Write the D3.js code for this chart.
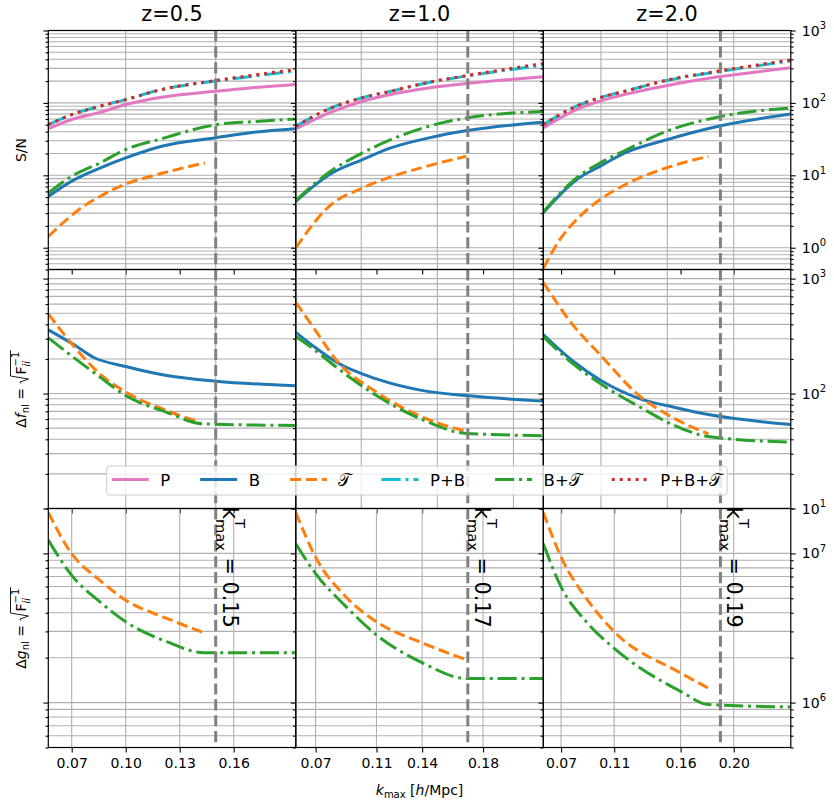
<!DOCTYPE html>
<html>
<head>
<meta charset="utf-8">
<script src="https://cdn.jsdelivr.net/npm/d3@7"></script>
<style>
  body { margin: 0; background: #fff; }
  text { font-family: 'DejaVu Sans', sans-serif; fill: #000; }
</style>
</head>
<body>
<script>
// ---- data ----
const zLabels = ['z=0.5', 'z=1.0', 'z=2.0']
const kDomains = [[0.057, 0.1945], [0.057, 0.2196], [0.0566, 0.243]]
const kTmax = [0.15, 0.17, 0.19]
const kTmaxLabels = ['0.15', '0.17', '0.19']
const bottomTicks = [[0.07, 0.10, 0.13, 0.16], [0.07, 0.11, 0.14, 0.18], [0.07, 0.11, 0.16, 0.20]]
const upperGridTicks = [0.10, 0.15, 0.20]
const seriesNames = ['P', 'B', 'T', 'P+B', 'B+T', 'P+B+T']
const legendLabels = ['P', 'B', '\u{1D4AF}', 'P+B', 'B+\u{1D4AF}', 'P+B+\u{1D4AF}']

// S/N
const snZ05 = {
  P: [[0.057, 44], [0.07, 59], [0.0857, 74], [0.10, 95], [0.12, 120], [0.15, 145], [0.17, 162], [0.1945, 180]],
  B: [[0.057, 5.1], [0.07, 8.3], [0.0857, 12.6], [0.10, 17.4], [0.12, 25.2], [0.15, 33], [0.17, 39], [0.1945, 44]],
  T: [[0.057, 1.43], [0.0672, 2.44], [0.0765, 3.72], [0.0857, 5.1], [0.10, 7.6], [0.114, 9.7], [0.144, 14.8]],
  'P+B': [[0.057, 50], [0.07, 69], [0.0857, 90], [0.10, 111], [0.12, 153], [0.15, 200], [0.17, 232], [0.1945, 276]],
  'B+T': [[0.057, 5.7], [0.07, 9.7], [0.0857, 14.8], [0.10, 22.7], [0.12, 32], [0.15, 50], [0.17, 55], [0.1945, 60]],
  'P+B+T': [[0.057, 50], [0.07, 69], [0.0857, 90], [0.10, 111], [0.12, 153], [0.15, 204], [0.17, 240], [0.1945, 290]]
}
const snZ10 = {
  P: [[0.057, 43.8], [0.0789, 72.8], [0.1008, 105.6], [0.1194, 131], [0.1445, 161], [0.1697, 185], [0.2196, 229]],
  B: [[0.057, 4.37], [0.0789, 10.2], [0.1008, 16.5], [0.1194, 23.9], [0.1445, 32.9], [0.1697, 41.5], [0.2196, 54]],
  T: [[0.057, 1.0], [0.0789, 3.72], [0.1008, 6.7], [0.1194, 9.5], [0.1445, 13.6], [0.169, 18.3]],
  'P+B': [[0.057, 47.6], [0.0789, 83], [0.1008, 118], [0.1194, 145], [0.1445, 191], [0.1697, 236], [0.2196, 330]],
  'B+T': [[0.057, 4.5], [0.0789, 11], [0.1008, 20.4], [0.1194, 31], [0.1445, 47.6], [0.1697, 62.1], [0.2196, 76]],
  'P+B+T': [[0.057, 47.6], [0.0789, 83], [0.1008, 118], [0.1194, 145], [0.1445, 193], [0.1697, 239], [0.2196, 350]]
}
const snZ20 = {
  P: [[0.0564, 45], [0.0816, 81], [0.0992, 105.6], [0.1181, 131], [0.1495, 173], [0.1885, 229], [0.243, 305]],
  B: [[0.0564, 3.02], [0.0816, 8.7], [0.0992, 13.3], [0.1181, 20.4], [0.1495, 31], [0.1885, 47.6], [0.243, 70.4]],
  T: [[0.0566, 0.52], [0.069, 1.29], [0.0816, 2.44], [0.0992, 4.6], [0.1181, 7.4], [0.1495, 12.7], [0.181, 18.3]],
  'P+B': [[0.0564, 50], [0.0816, 90], [0.0992, 118], [0.1181, 145], [0.1495, 204], [0.1885, 270], [0.243, 380]],
  'B+T': [[0.0564, 3.1], [0.0816, 9.2], [0.0992, 14.8], [0.1181, 22], [0.1495, 40.6], [0.1885, 64], [0.243, 85]],
  'P+B+T': [[0.0564, 50], [0.0816, 90], [0.0992, 118], [0.1181, 145], [0.1495, 206], [0.1885, 275], [0.243, 392]]
}

// delta f_nl
const fnlZ05 = {
  B: [[0.057, 358], [0.0709, 268], [0.082, 207], [0.10, 172], [0.1228, 143.6], [0.15, 128], [0.1945, 117]],
  T: [[0.057, 493], [0.0709, 261], [0.0857, 148], [0.10, 103], [0.1228, 71], [0.1413, 56.3]],
  'B+T': [[0.057, 305], [0.0709, 207], [0.0857, 139], [0.10, 96], [0.1228, 68.7], [0.143, 54.5], [0.1945, 52.7]]
}
const fnlZ10 = {
  B: [[0.057, 341], [0.07, 250], [0.0838, 187], [0.11, 134], [0.1406, 106], [0.169, 96], [0.2196, 86]],
  T: [[0.057, 622], [0.07, 353], [0.0838, 194], [0.11, 103], [0.1406, 62], [0.169, 47]],
  'B+T': [[0.057, 313], [0.07, 236], [0.0838, 169], [0.11, 96], [0.1406, 59], [0.169, 45], [0.2196, 43]]
}
const fnlZ20 = {
  B: [[0.0566, 326], [0.0793, 190], [0.10, 130], [0.1296, 90], [0.155, 76], [0.181, 65.6], [0.243, 53.7]],
  T: [[0.0566, 929], [0.0793, 390], [0.10, 214], [0.127, 100], [0.155, 61], [0.181, 44.6]],
  'B+T': [[0.0566, 313], [0.0793, 180], [0.10, 121], [0.1296, 76], [0.155, 53], [0.181, 42.3], [0.243, 37.8]]
}

// delta g_nl
const gnlZ05 = {
  T: [[0.057, 1.88e7], [0.07, 9.95e6], [0.0857, 6.6e6], [0.10, 4.86e6], [0.1228, 3.67e6], [0.1435, 2.94e6]],
  'B+T': [[0.057, 1.23e7], [0.07, 7.13e6], [0.0857, 4.73e6], [0.10, 3.48e6], [0.1228, 2.56e6], [0.1437, 2.16e6], [0.1945, 2.16e6]]
}
const gnlZ10 = {
  T: [[0.057, 1.88e7], [0.07, 9.44e6], [0.09, 5.1e6], [0.11, 3.48e6], [0.1406, 2.5e6], [0.169, 1.94e6]],
  'B+T': [[0.057, 1.16e7], [0.07, 7.33e6], [0.09, 4.4e6], [0.11, 2.84e6], [0.1406, 1.84e6], [0.169, 1.45e6], [0.2196, 1.45e6]]
}
const gnlZ20 = {
  T: [[0.0566, 1.88e7], [0.07, 9.44e6], [0.09, 4.86e6], [0.11, 2.99e6], [0.16, 1.58e6], [0.181, 1.25e6]],
  'B+T': [[0.0566, 1.16e7], [0.07, 5.96e6], [0.09, 3.4e6], [0.11, 2.31e6], [0.16, 1.19e6], [0.181, 9.7e5], [0.243, 9.36e5]]
}

const panels = [
  [snZ05, snZ10, snZ20],
  [fnlZ05, fnlZ10, fnlZ20],
  [gnlZ05, gnlZ10, gnlZ20]
]
const yDomains = [[0.5, 1000], [10, 1200], [5e5, 2e7]]

// ---- styles ----
const colors = {
  P: '#e377c2', B: '#1f77b4', T: '#ff7f0e',
  'P+B': '#17becf', 'B+T': '#2ca02c', 'P+B+T': '#d62728'
}
const dashes = {
  P: null, B: null, T: '11.1,4.8',
  'P+B': '19.2,4.8,3,4.8', 'B+T': '19.2,4.8,3,4.8', 'P+B+T': '3,4.95'
}
const lineWidth = 3
const gridColor = '#b0b0b0'

const left0 = 48.3
const top0 = 30.5
const panelW = 247.5
const panelH = 239

const svg = d3.select('body').append('svg')
  .attr('width', 834).attr('height', 801)

const isMajor = d => Math.abs(Math.log10(d) - Math.round(Math.log10(d))) < 1e-9
const defs = svg.append('defs')

panels.forEach((rowData, r) => {
  rowData.forEach((data, c) => {
    const x0 = left0 + c * panelW
    const y0 = top0 + r * panelH
    const xScale = d3.scaleLinear().domain(kDomains[c]).range([x0, x0 + panelW])
    const yScale = d3.scaleLog().domain(yDomains[r]).range([y0 + panelH, y0])
    const yTicks = yScale.ticks()
    const yMajor = yTicks.filter(isMajor)
    const yMinor = yTicks.filter(d => !isMajor(d))
    const xGrid = (r < 2 ? upperGridTicks : bottomTicks[c])
      .filter(d => d >= kDomains[c][0] && d <= kDomains[c][1])

    const g = svg.append('g')

    // grid
    g.append('g').selectAll('line').data(yTicks).join('line')
      .attr('x1', x0).attr('x2', x0 + panelW)
      .attr('y1', d => yScale(d)).attr('y2', d => yScale(d))
      .style('stroke', gridColor).style('stroke-width', 1.1)
    g.append('g').selectAll('line').data(xGrid).join('line')
      .attr('x1', d => xScale(d)).attr('x2', d => xScale(d))
      .attr('y1', y0).attr('y2', y0 + panelH)
      .style('stroke', gridColor).style('stroke-width', 1.1)

    // series
    const clipId = `clip-${r}-${c}`
    defs.append('clipPath').attr('id', clipId).append('rect')
      .attr('x', x0).attr('y', y0).attr('width', panelW).attr('height', panelH)
    const line = d3.line()
      .x(d => xScale(d[0])).y(d => yScale(d[1]))
      .curve(d3.curveMonotoneX)
    const lg = g.append('g').attr('clip-path', `url(#${clipId})`)
    seriesNames.filter(name => data[name]).forEach(name => {
      lg.append('path')
        .attr('d', line(data[name]))
        .style('fill', 'none')
        .style('stroke', colors[name])
        .style('stroke-width', lineWidth)
        .style('stroke-dasharray', dashes[name])
    })

    // k^T_max marker
    lg.append('line')
      .attr('x1', xScale(kTmax[c])).attr('x2', xScale(kTmax[c]))
      .attr('y1', y0).attr('y2', y0 + panelH)
      .style('stroke', '#808080').style('stroke-width', 3)
      .style('stroke-dasharray', '11.1,4.8')

    // y ticks (left, no labels)
    g.append('g').attr('transform', `translate(${x0},0)`)
      .call(d3.axisLeft(yScale).tickValues(yMajor).tickSize(4.9).tickSizeOuter(0).tickFormat(''))
      .call(s => s.select('.domain').remove())
    g.append('g').attr('transform', `translate(${x0},0)`)
      .call(d3.axisLeft(yScale).tickValues(yMinor).tickSize(2.8).tickSizeOuter(0).tickFormat(''))
      .call(s => s.select('.domain').remove())

    // right ticks with labels on the last column
    if (c === 2) {
      const xr = x0 + panelW
      g.append('g').attr('transform', `translate(${xr},0)`)
        .call(d3.axisRight(yScale).tickValues(yMajor).tickSize(4.9).tickSizeOuter(0).tickFormat(''))
        .call(s => s.select('.domain').remove())
      g.append('g').attr('transform', `translate(${xr},0)`)
        .call(d3.axisRight(yScale).tickValues(yMinor).tickSize(2.8).tickSizeOuter(0).tickFormat(''))
        .call(s => s.select('.domain').remove())
      yMajor.forEach(v => {
        const t = g.append('text')
          .attr('x', xr + 11).attr('y', yScale(v) + 5)
          .style('font-size', '14px')
        t.append('tspan').text('10')
        t.append('tspan').attr('dy', -6.5).style('font-size', '10px')
          .text(String(Math.round(Math.log10(v))))
      })
    }

    // x ticks
    g.append('g').attr('transform', `translate(0,${y0 + panelH})`)
      .call(d3.axisBottom(xScale).tickValues(bottomTicks[c]).tickSize(4.9).tickSizeOuter(0)
        .tickFormat(r === 2 ? d3.format('.2f') : ''))
      .call(s => s.select('.domain').remove())
      .call(s => s.selectAll('text').style('font-size', '14px')
        .style('font-family', "'DejaVu Sans', sans-serif").attr('y', 10.5).attr('dy', '0.71em'))

    g.selectAll('.tick line').style('stroke', '#000').style('stroke-width', 1.1)

    // spine
    g.append('rect')
      .attr('x', x0).attr('y', y0).attr('width', panelW).attr('height', panelH)
      .style('fill', 'none').style('stroke', '#000').style('stroke-width', 1.2)

    if (r === 0) {
      g.append('text')
        .attr('x', x0 + panelW / 2).attr('y', 20.5)
        .attr('text-anchor', 'middle')
        .style('font-size', '20.8px')
        .text(zLabels[c])
    }

    // k^T_max annotation in the bottom row
    if (r === 2) {
      const t = svg.append('text')
        .attr('transform', `translate(${xScale(kTmax[c]) + 7},507) rotate(90)`)
        .style('font-size', '20.8px')
      t.append('tspan').text('k')
      const sup = t.append('tspan').attr('dy', -12).style('font-size', '14.6px').text('T')
      const supW = sup.node().getComputedTextLength()
      t.append('tspan').attr('dx', -supW).attr('dy', 19).style('font-size', '14.6px').text('max')
      t.append('tspan').attr('dy', -7).text(' = ' + kTmaxLabels[c])
    }
  })
})

// ---- axis labels ----
function radicalLabel(cy, letter) {
  const outer = svg.append('g').attr('transform', `translate(25.5,${cy}) rotate(-90)`)
  const inner = outer.append('g')
  const t = inner.append('text').style('font-size', '14px')
  t.append('tspan').text('\u0394')
  t.append('tspan').style('font-style', 'italic').text(letter)
  t.append('tspan').attr('dy', 3.5).style('font-size', '10px').text('nl')
  t.append('tspan').attr('dy', -3.5).text(' = ')
  const fT = t.append('tspan').attr('dx', 9).text('F')
  const sup = t.append('tspan').attr('dy', -6.5).style('font-size', '10px').text('\u22121')
  const supW = sup.node().getComputedTextLength()
  t.append('tspan').attr('dx', -supW).attr('dy', 10.5)
    .style('font-size', '10px').style('font-style', 'italic').text('ii')
  const fx = fT.node().getStartPositionOfChar(0).x
  const fW = fT.node().getComputedTextLength()
  const endX = fx + fW + supW + 1.5
  inner.append('path')
    .attr('d', `M${fx - 9},-4.5 L${fx - 7.5},-5.5 L${fx - 4.5},3 L${fx - 1.5},-15 L${endX},-15`)
    .style('fill', 'none').style('stroke', '#000').style('stroke-width', 0.9)
  const bb = inner.node().getBBox()
  inner.attr('transform', `translate(${-(bb.x + bb.width / 2)},0)`)
}

svg.append('text')
  .attr('transform', `translate(25.5,${top0 + panelH / 2}) rotate(-90)`)
  .attr('text-anchor', 'middle')
  .style('font-size', '14px')
  .text('S/N')
radicalLabel(top0 + panelH * 1.5, 'f')
radicalLabel(top0 + panelH * 2.5, 'g')

const xl = svg.append('text')
  .attr('x', left0 + panelW * 1.5).attr('y', 795)
  .attr('text-anchor', 'middle')
  .style('font-size', '14px')
xl.append('tspan').style('font-style', 'italic').text('k')
xl.append('tspan').attr('dy', 3).style('font-size', '10px').text('max')
xl.append('tspan').attr('dy', -3).text(' [')
xl.append('tspan').style('font-style', 'italic').text('h')
xl.append('tspan').text('/Mpc]')

// ---- legend ----
const legendG = svg.append('g')
const legX = 106.7
const legY = 466
const legH = 29
const handleLen = 37
const textPad = 11.5
const colSpacing = 30
let cursor = legX + 5
seriesNames.forEach((name, i) => {
  legendG.append('line')
    .attr('x1', cursor).attr('x2', cursor + handleLen)
    .attr('y1', legY + 13.5).attr('y2', legY + 13.5)
    .style('stroke', colors[name]).style('stroke-width', lineWidth)
    .style('stroke-dasharray', dashes[name])
  const t = legendG.append('text')
    .attr('x', cursor + handleLen + textPad).attr('y', legY + 19.5)
    .style('font-size', '16.5px')
    .text(legendLabels[i])
  cursor = cursor + handleLen + textPad + t.node().getComputedTextLength() + colSpacing
})
legendG.insert('rect', ':first-child')
  .attr('x', legX).attr('y', legY)
  .attr('width', cursor - colSpacing + 5 - legX).attr('height', legH)
  .attr('rx', 3)
  .style('fill', '#fff').style('fill-opacity', 0.8)
  .style('stroke', '#cccccc').style('stroke-width', 1)
</script>
</body>
</html>
